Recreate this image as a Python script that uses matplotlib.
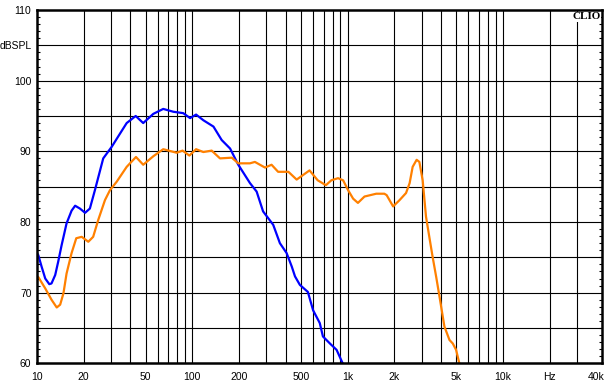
import numpy as np
import matplotlib
matplotlib.use('Agg')
import matplotlib.pyplot as plt
from matplotlib.ticker import FixedLocator, NullFormatter

# curva azul (woofer)
freq_azul = [10, 10.2, 10.7, 11.3, 12.0, 12.4, 13.1, 13.7, 14.4, 15.5, 16.7, 17.6, 18.9,
             20.4, 21.9, 23.6, 26.7, 30.3, 34.0, 37.8, 43.2, 48.3, 56.1,
             65.0, 75.5, 87.5, 96.8, 105.8, 117.8, 136.9, 154.6, 175.1, 197.8, 235.3,
             259.7, 285.7, 332, 366.6, 405, 437, 458.6, 493, 555, 600, 662, 694, 770,
             850, 930, 1000]
spl_azul = [75.6, 75.3, 73.7, 72.0, 71.2, 71.3, 72.5, 74.4, 76.7, 79.8, 81.6, 82.3, 81.9,
            81.3, 81.9, 84.5, 89.0, 90.65, 92.4, 94.0, 95.0, 94.0, 95.3,
            96.0, 95.6, 95.4, 94.7, 95.2, 94.4, 93.5, 91.6, 90.4, 88.1, 85.5,
            84.3, 81.5, 79.6, 77.0, 75.6, 73.7, 72.3, 71.1, 70.1, 67.5, 65.7, 63.8, 62.8,
            61.9, 60.0, 58.5]

# curva naranja (sistema)
freq_naranja = [10, 10.2, 11.3, 12.4, 13.4, 14.1, 14.8, 15.5, 16.7, 17.9, 19.4, 21.4, 23.0,
                24.8, 27.4, 29.5, 32.6, 37.8, 43.4, 48.3,
                56.1, 65.0, 79.3, 86.6, 95.8, 105.8, 117.8, 133.3, 150.8, 179.6, 197.8,
                235, 253, 294, 324, 357, 416, 470, 569, 642, 725, 786, 868, 936, 1008,
                1086, 1166, 1285, 1530, 1725, 1785, 1965, 2163, 2380, 2510, 2625, 2785,
                2900, 3045, 3200, 3360, 3527, 3720, 3905, 4204, 4532, 4760, 5000, 5244, 5500]
spl_naranja = [72.3, 72.2, 70.6, 69.0, 67.9, 68.3, 69.9, 72.7, 75.6, 77.7, 77.9, 77.2, 77.9,
               80.3, 83.1, 84.5, 85.7, 87.8, 89.2, 88.1,
               89.3, 90.3, 89.8, 90.1, 89.4, 90.3, 89.9, 90.1, 89.0, 89.1, 88.3,
               88.3, 88.5, 87.7, 88.1, 87.1, 87.1, 86.0, 87.3, 85.9, 85.2, 85.9, 86.2, 85.9, 84.5,
               83.3, 82.7, 83.6, 84.0, 84.0, 83.8, 82.2, 83.1, 84.1, 85.5, 87.8, 88.8,
               88.5, 85.9, 80.75, 77.9, 75.1, 72.25, 69.5, 65.2, 63.3, 62.8, 61.9, 60.0, 58.5]

etiquetas_x = {10: '10', 20: '20', 50: '50', 100: '100', 200: '200', 500: '500',
               1000: '1k', 2000: '2k', 5000: '5k', 10000: '10k', 20000: 'Hz', 40000: '40k'}
etiquetas_y = {60: '60', 70: '70', 80: '80', 90: '90', 100: '100', 105: 'dBSPL', 110: '110'}

plt.rcParams['font.family'] = ['Liberation Sans', 'DejaVu Sans']

fig = plt.figure(figsize=(6.12, 3.89), dpi=100)
ax = fig.add_axes([37/612, 1 - 363.3/389, (602 - 37)/612, (363.3 - 10)/389])

# rejilla
lineas_v = [d * m for d in (10, 100, 1000, 10000) for m in range(1, 10)]
lineas_v = [f for f in lineas_v if 10 < f <= 30000]
for f in lineas_v:
    ax.axvline(f, color='black', lw=0.8, zorder=1)
for y in range(65, 110, 5):
    ax.axhline(y, color='black', lw=0.8, zorder=1)

ax.plot(freq_azul, spl_azul, color='#0000ff', lw=1.6, zorder=3)
ax.plot(freq_naranja, spl_naranja, color='#ff8000', lw=1.6, zorder=3)

ax.set_xscale('log')
ax.set_xlim(10, 43500)
ax.set_ylim(60, 110)

ax.xaxis.set_major_locator(FixedLocator(list(etiquetas_x.keys())))
ax.set_xticklabels(list(etiquetas_x.values()))
ax.xaxis.set_minor_locator(FixedLocator([]))
ax.xaxis.set_minor_formatter(NullFormatter())
ax.tick_params(axis='x', length=0, pad=6, labelsize=7.5)

ax.yaxis.set_major_locator(FixedLocator(list(etiquetas_y.keys())))
ax.set_yticklabels(list(etiquetas_y.values()))
ax.yaxis.set_minor_locator(FixedLocator(list(range(61, 110))))
ax.tick_params(axis='y', which='major', length=0, pad=4, labelsize=7.5)
ax.tick_params(axis='y', which='minor', direction='in', length=2.5, width=0.8,
               left=True, right=True)

for s in ax.spines.values():
    s.set_linewidth(1.8)
    s.set_zorder(4)

ax.text(0.997, 0.993, 'CLIO', transform=ax.transAxes, ha='right', va='top',
        family='Liberation Serif', fontweight='bold', fontsize=8, zorder=5,
        bbox=dict(facecolor='white', edgecolor='none', pad=0.5))

fig.savefig('out.png', dpi=100)
